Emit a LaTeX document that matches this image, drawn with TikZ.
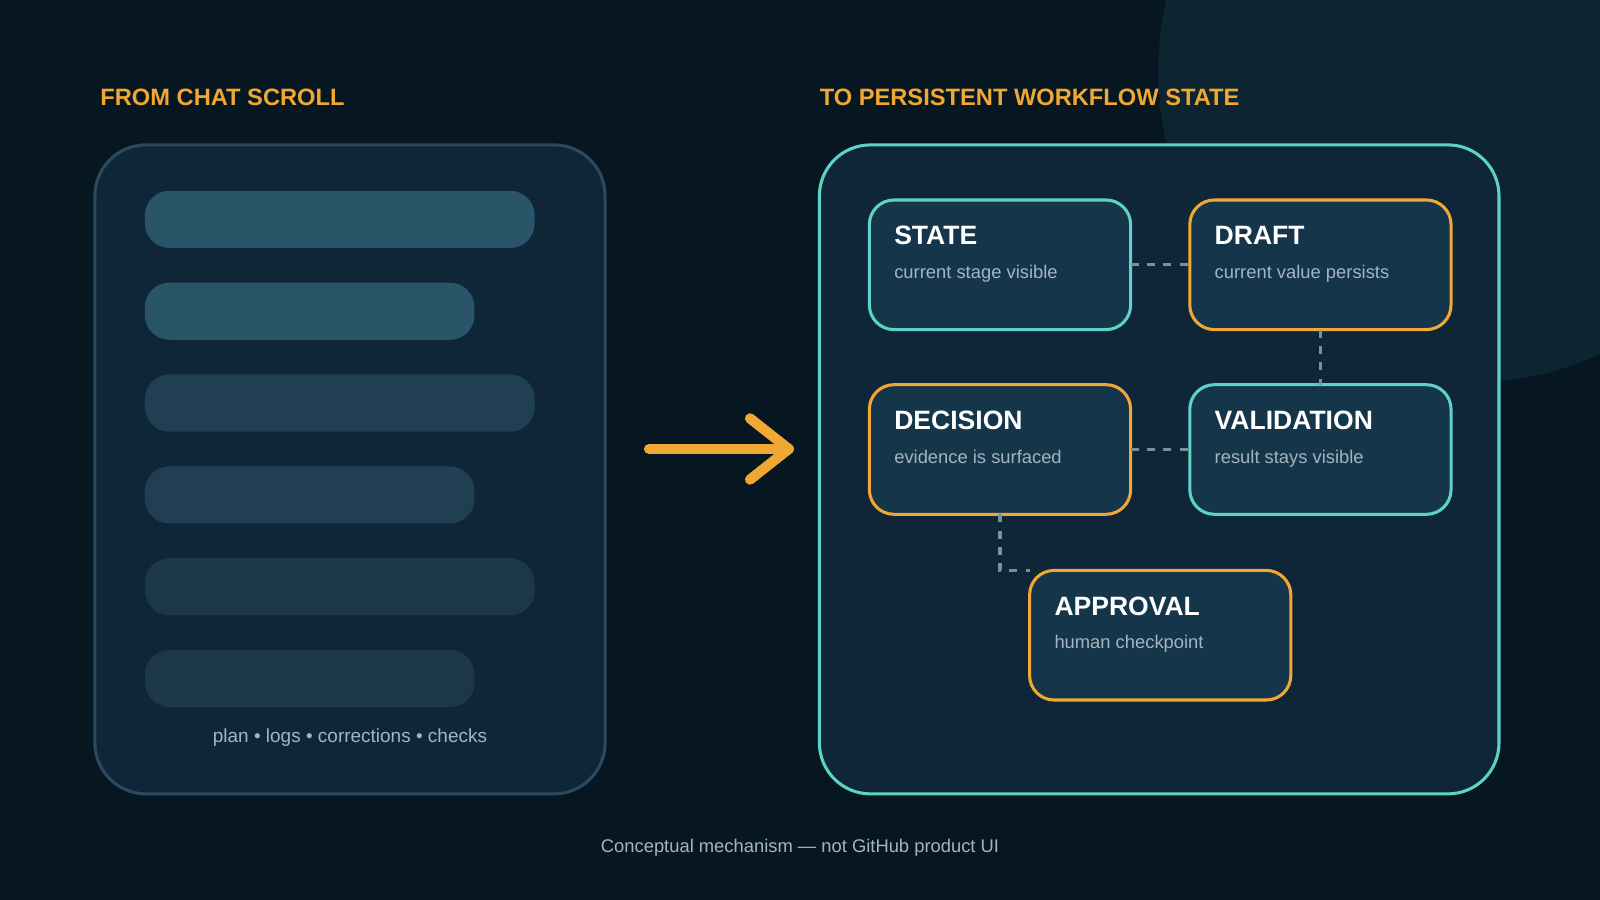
\documentclass[tikz,border=0pt]{standalone}
\usepackage{fontspec}
\setmainfont{Liberation Sans}
\usetikzlibrary{positioning}
\definecolor{bgdark}{HTML}{061722}
\definecolor{bgglow}{HTML}{0C2530}
\definecolor{panel}{HTML}{0F2639}
\definecolor{panelline}{HTML}{2B4A5F}
\definecolor{barA}{HTML}{2A5468}
\definecolor{barB}{HTML}{213F53}
\definecolor{barC}{HTML}{1C364A}
\definecolor{accent}{HTML}{F0A832}
\definecolor{teal}{HTML}{5FD2C6}
\definecolor{cardfill}{HTML}{14354A}
\definecolor{muted}{HTML}{A3B5C1}
\definecolor{dashgray}{HTML}{7A8E9B}
\tikzset{
  bar/.style={rounded corners=12, inner sep=0, outer sep=0, minimum height=28, anchor=north west},
  card/.style={draw, line width=1.5, fill=cardfill, rounded corners=12, minimum width=128, minimum height=63.5, inner sep=0, outer sep=0, anchor=north west},
  head/.style={font=\bfseries\fontsize{11.6}{14}\selectfont, text=accent, anchor=base west, inner sep=0},
  ttl/.style={font=\bfseries\fontsize{13}{15}\selectfont, text=white, anchor=base west, inner sep=0},
  sub/.style={font=\fontsize{9}{11}\selectfont, text=muted, anchor=base west, inner sep=0},
  link/.style={dashgray, line width=1.5, dash pattern=on 4 off 4},
}
\begin{document}
\begin{tikzpicture}[x=0.5pt, y=-0.5pt]
	\useasboundingbox (0,0) rectangle (1568,882);
	\fill[bgdark] (0,0) rectangle (1568,882);
	\begin{scope}
	\clip (0,0) rectangle (1568,882);
	\fill[bgglow] (1440,70) circle (305);
	\end{scope}
	% left side
	\node[head] (hleft) at (98,103) {FROM CHAT SCROLL};
	\draw[panelline, line width=1.5, fill=panel, rounded corners=25] (93,142) rectangle (593,778);
	\node[bar, fill=barA, minimum width=191] (b1) at (142,187) {};
	\node[bar, fill=barA, minimum width=161.5] (b2) at (142,277) {};
	\node[bar, fill=barB, minimum width=191] (b3) at (142,367) {};
	\node[bar, fill=barB, minimum width=161.5] (b4) at (142,457) {};
	\node[bar, fill=barC, minimum width=191] (b5) at (142,547) {};
	\node[bar, fill=barC, minimum width=161.5] (b6) at (142,637) {};
	\node[font=\fontsize{9.3}{11}\selectfont, text=muted] (cap) at (343,723) {plan • logs • corrections • checks};
	% arrow
	\coordinate (ta) at (636,440);
	\coordinate (tb) at (773,440);
	\draw[accent, line width=5, line cap=round] (ta) -- (tb);
	\draw[accent, line width=5, line cap=round, line join=round] (735,410) -- (tb) -- (735,470);
	% right side
	\node[head] (hright) at (803,103) {TO PERSISTENT WORKFLOW STATE};
	\draw[teal, line width=1.5, fill=panel, rounded corners=25] (803,142) rectangle (1469,778);
	\node[card, draw=teal] (state) at (852,196) {};
	\node[card, draw=accent] (draft) at (1166,196) {};
	\node[card, draw=accent] (decision) at (852,377) {};
	\node[card, draw=teal] (valid) at (1166,377) {};
	\node[card, draw=accent] (approval) at (1009,559) {};
	\foreach \n/\t/\s in {state/STATE/current stage visible, draft/DRAFT/current value persists, decision/DECISION/evidence is surfaced, valid/VALIDATION/result stays visible, approval/APPROVAL/human checkpoint}{
		\node[ttl] (\n-t) at ([shift={(24,44)}]\n.north west) {\t};
		\node[sub] (\n-s) at ([shift={(24,77)}]\n.north west) {\s};
	}
	\draw[link] (state.east) -- (draft.west);
	\draw[link] (draft.south) -- (valid.north);
	\draw[link] (decision.east) -- (valid.west);
	\draw[link] (decision.south) |- (approval.north west);
	% footer
	\node[font=\fontsize{9}{11}\selectfont, text=muted] (foot) at (784,831) {Conceptual mechanism — not GitHub product UI};
\end{tikzpicture}
\end{document}
